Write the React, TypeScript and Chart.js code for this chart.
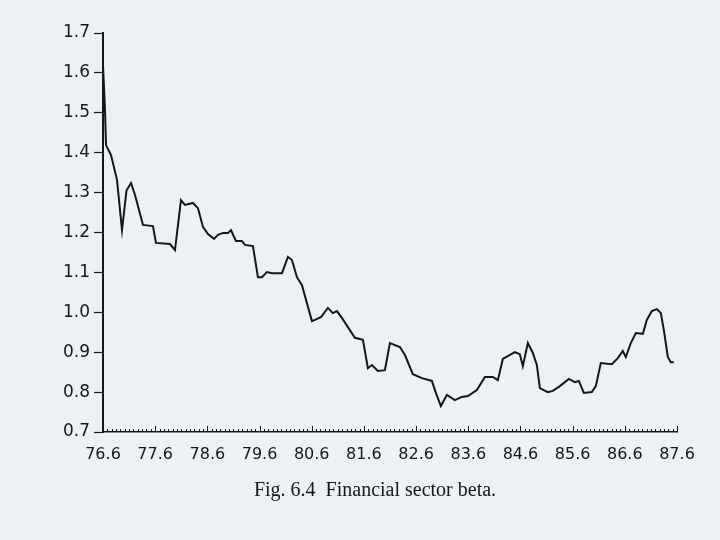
import React, { useEffect, useRef } from "react";
import { Chart, registerables } from "chart.js";

Chart.register(...registerables);

// months elapsed since 76.6 (June 1976)
const monthIndex = [
  0, 0.46, 0.69, 1.84, 3.22, 4.37, 5.4, 6.44, 7.36, 9.2, 11.49, 12.18, 15.4, 16.55, 17.93, 18.85,
  20.69, 21.84, 22.99, 24.14, 25.52, 26.44, 27.59, 28.74, 29.43, 30.57, 31.95, 32.64, 34.48,
  35.63, 36.55, 37.7, 38.85, 41.15, 42.53, 43.45, 44.6, 45.75, 48.05, 48.74, 50.11, 51.72,
  52.87, 53.79, 54.94, 57.93, 59.77, 60.92, 61.84, 63.22, 64.83, 65.98, 68.28, 69.43, 71.26,
  73.33, 75.63, 76.55, 77.7, 79.08, 80.92, 82.53, 83.91, 85.98, 87.82, 89.66, 90.8, 91.95,
  94.71, 95.86, 96.55, 97.7, 98.85, 99.77, 100.46, 102.3, 103.45, 105.06, 107.13, 108.51,
  109.43, 110.57, 112.41, 113.33, 114.48, 117.01, 118.39, 119.54, 120.23, 121.38, 122.53,
  124.14, 125.06, 126.21, 127.36, 128.28, 128.97, 129.89, 130.57, 131.26,
];

const beta = [
  1.62, 1.507, 1.419, 1.394, 1.332, 1.206, 1.305, 1.324, 1.294, 1.219, 1.216, 1.174, 1.171, 1.156,
  1.281, 1.269, 1.274, 1.261, 1.214, 1.196, 1.184, 1.194, 1.199, 1.199, 1.206, 1.179, 1.179,
  1.169, 1.166, 1.088, 1.088, 1.101, 1.098, 1.098, 1.139, 1.131, 1.088, 1.068, 0.978, 0.981,
  0.988, 1.011, 0.998, 1.003, 0.986, 0.936, 0.931, 0.86, 0.868, 0.853, 0.855, 0.923, 0.913,
  0.893, 0.845, 0.835, 0.828, 0.798, 0.765, 0.793, 0.78, 0.788, 0.79, 0.805, 0.838, 0.838,
  0.83, 0.883, 0.9, 0.895, 0.865, 0.923, 0.898, 0.868, 0.81, 0.8, 0.803, 0.815, 0.833, 0.825,
  0.828, 0.798, 0.8, 0.815, 0.873, 0.87, 0.885, 0.903, 0.888, 0.923, 0.948, 0.946, 0.981,
  1.003, 1.008, 0.998, 0.956, 0.888, 0.875, 0.875,
];

const xTickLabels = [
  "76.6", "77.6", "78.6", "79.6", "80.6", "81.6", "82.6", "83.6", "84.6", "85.6", "86.6", "87.6",
];

const yMin = 0.7;
const yMax = 1.7;
const caption = "Fig. 6.4  Financial sector beta.";

const INK = "#161616";

const minorTicks = {
  id: "minorTicks",
  afterDraw(chart: any) {
    const xs = chart.scales.x;
    const ctx = chart.ctx;
    const bottom = chart.chartArea.bottom;
    const total = (xTickLabels.length - 1) * 12;
    ctx.save();
    ctx.strokeStyle = INK;
    ctx.lineWidth = 1;
    for (let m = 0; m <= total; m++) {
      const x = Math.round(xs.getPixelForValue(m)) + 0.5;
      const len = m % 12 === 0 ? 6 : 3;
      ctx.beginPath();
      ctx.moveTo(x, bottom);
      ctx.lineTo(x, bottom - len);
      ctx.stroke();
    }
    ctx.restore();
  },
};

export default function App() {
  const ref = useRef<HTMLCanvasElement | null>(null);

  useEffect(() => {
    if (!ref.current) return;
    const points = monthIndex.map((m, i) => ({ x: m, y: beta[i] }));
    const chart = new Chart(ref.current, {
      type: "line",
      data: {
        datasets: [
          {
            data: points,
            borderColor: INK,
            borderWidth: 2,
            pointRadius: 0,
            tension: 0,
            fill: false,
          },
        ],
      },
      options: {
        animation: false,
        responsive: true,
        maintainAspectRatio: false,
        layout: { padding: { top: 33, right: 43, left: 0, bottom: 0 } },
        plugins: {
          legend: { display: false },
          tooltip: { enabled: false },
          title: { display: false },
        },
        scales: {
          x: {
            type: "linear",
            min: 0,
            max: (xTickLabels.length - 1) * 12,
            grid: { display: false },
            border: { display: true, color: INK, width: 1.5 },
            afterFit: (s: any) => {
              s.height = 108;
            },
            ticks: {
              stepSize: 12,
              autoSkip: false,
              maxRotation: 0,
              padding: 5,
              color: INK,
              font: { family: "DejaVu Sans", size: 16 },
              callback: (v: any) => {
                const n = Number(v);
                return n % 12 === 0 ? xTickLabels[n / 12] : "";
              },
            },
          },
          y: {
            type: "linear",
            min: yMin,
            max: yMax,
            grid: {
              display: true,
              drawOnChartArea: false,
              drawTicks: true,
              tickLength: 9,
              tickColor: INK,
              tickWidth: 1.2,
            },
            border: { display: true, color: INK, width: 2 },
            afterFit: (s: any) => {
              s.width = 103;
            },
            ticks: {
              stepSize: 0.1,
              padding: 4,
              color: INK,
              font: { family: "DejaVu Sans", size: 17 },
              callback: (v: any) => Number(v).toFixed(1),
            },
          },
        },
      },
      plugins: [minorTicks],
    });
    return () => chart.destroy();
  }, []);

  return (
    <div
      style={{
        position: "absolute",
        left: 0,
        top: 0,
        width: 720,
        height: 540,
        background: "#eef1f3",
        overflow: "hidden",
      }}
    >
      <canvas ref={ref} />
      <div
        style={{
          position: "absolute",
          left: 0,
          width: 750,
          top: 478,
          textAlign: "center",
          fontFamily: "'Liberation Serif', serif",
          fontSize: 20,
          lineHeight: "22px",
          color: INK,
          whiteSpace: "pre",
        }}
      >
        {caption}
      </div>
    </div>
  );
}
